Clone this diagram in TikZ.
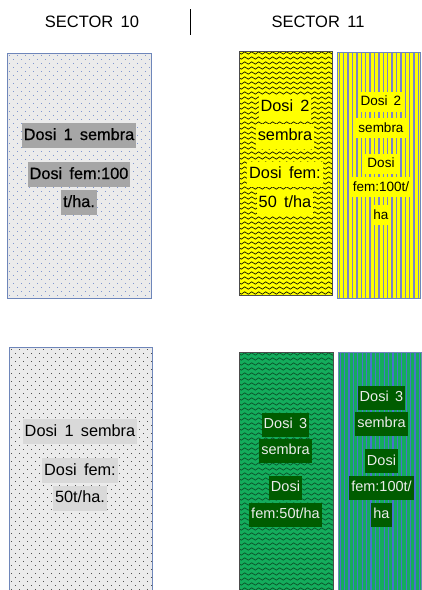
\documentclass[tikz,border=0pt]{standalone}
\usepackage{fontspec}
\setmainfont{Liberation Sans}[WordSpace=1.6]
\usetikzlibrary{decorations.pathmorphing}
\definecolor{bgL}{HTML}{EBEBEB}
\definecolor{dotblue}{HTML}{7F96CF}
\definecolor{dotdark}{HTML}{505050}
\definecolor{frameblue}{HTML}{6E86BA}
\definecolor{hldark}{HTML}{A6A6A6}
\definecolor{hllight}{HTML}{D9D9D9}
\definecolor{yel}{HTML}{FFFF00}
\definecolor{stripeY}{HTML}{7A84C8}
\definecolor{grn}{HTML}{14AC5C}
\definecolor{grnzz}{HTML}{0A4A24}
\definecolor{stripeG}{HTML}{4A72CC}
\definecolor{hlgreen}{HTML}{005C00}
\definecolor{txtlight}{HTML}{ECECEC}
\tikzset{
  frame/.style={draw=frameblue, line width=0.8pt},
  hl/.style={inner xsep=2pt, inner ysep=4.5pt, text height=12.5pt, text depth=3.5pt,
    font=\fontsize{16.3}{19}\selectfont},
  hlsmall/.style={inner xsep=2pt, inner ysep=3pt, text height=11pt, text depth=3pt,
    font=\fontsize{13.5}{16}\selectfont},
  hlgr/.style={inner xsep=2pt, inner ysep=4.5pt, text height=11.5pt, text depth=3.5pt,
    font=\fontsize{14.5}{17}\selectfont, text=txtlight, fill=hlgreen},
  head/.style={font=\fontsize{16.5}{20}\selectfont},
  zz/.style={decorate, decoration={zigzag, segment length=7pt, amplitude=1.2pt}, line width=0.6pt}
}
\begin{document}
\begin{tikzpicture}[x=1pt,y=-1pt]
\useasboundingbox (0,0) rectangle (422,590);
\fill[white] (0,0) rectangle (422,590);

% header
\node[head] (s10) at (92,22) {SECTOR 10};
\node[head] (s11) at (318,22) {SECTOR 11};
\coordinate (sepT) at (190,9);
\coordinate (sepB) at (190,35);
\draw[line width=0.9pt] (sepT) -- (sepB);

% ---------- top-left box
\fill[bgL] (7,53) rectangle (151,298);
\begin{scope}
\clip (7,53) rectangle (151,298);
\foreach \r in {0,...,61}{
  \pgfmathsetmacro\off{mod(\r,2)*4}
  \foreach \c in {0,...,18}{
    \fill[dotblue] ({9+\c*8+\off},{55+\r*4}) rectangle ++(1.3,1.3);
  }}
\end{scope}
\draw[frame] (7,53) rectangle (151,298);

% ---------- bottom-left box
\fill[bgL] (9,347) rectangle (152,595);
\begin{scope}
\clip (9,347) rectangle (152,595);
\foreach \r in {0,...,61}{
  \pgfmathsetmacro\off{mod(\r,2)*4}
  \foreach \c in {0,...,18}{
    \fill[dotdark] ({11+\c*8+\off},{349+\r*4}) rectangle ++(1.1,1.1);
  }}
\end{scope}
\draw[frame] (9,347) rectangle (152,595);

% ---------- yellow zigzag
\fill[yel] (239,51) rectangle (332,295);
\begin{scope}
\clip (239,51) rectangle (332,295);
\foreach \r in {0,...,49}{
  \draw[zz, black] (236,{53+\r*5}) -- (340,{53+\r*5});
}
\end{scope}
\draw[frame, draw=black!70] (239,51) rectangle (332,295);

% ---------- yellow stripes
\fill[yel] (337,52) rectangle (420,298);
\begin{scope}
\clip (337,52) rectangle (420,298);
\foreach \c in {0,...,19}{
  \fill[stripeY] ({338.5+\c*4.4},52) rectangle ++(1.4,246);
}
\end{scope}
\draw[frame] (337,52) rectangle (420,298);

% ---------- green zigzag
\fill[grn] (239,352) rectangle (333,595);
\begin{scope}
\clip (239,352) rectangle (333,595);
\foreach \r in {0,...,49}{
  \draw[zz, grnzz] (236,{354+\r*5}) -- (340,{354+\r*5});
}
\end{scope}
\draw[frame, draw=black!70] (239,352) rectangle (333,595);

% ---------- green stripes
\fill[grn] (338,352) rectangle (421,595);
\begin{scope}
\clip (338,352) rectangle (421,595);
\foreach \c in {0,...,19}{
  \fill[stripeG] ({339.5+\c*4.4},352) rectangle ++(1.2,243);
}
\end{scope}
\draw[frame] (338,352) rectangle (421,595);

% ---------- texts top-left
\node[hl, fill=hldark, font=\fontsize{16.3}{19}\selectfont\addfontfeature{FakeBold=0.6}] (tl1) at (79,135.5) {Dosi 1 sembra};
\node[hl, fill=hldark, font=\fontsize{16.3}{19}\selectfont\addfontfeature{FakeBold=0.6}] (tl2) at (79,174.5) {Dosi fem:100};
\node[hl, fill=hldark, font=\fontsize{16.3}{19}\selectfont\addfontfeature{FakeBold=0.6}] (tl3) at (79,202.5) {t/ha.};

% ---------- texts bottom-left
\node[hl, fill=hllight] (bl1) at (80,431.5) {Dosi 1 sembra};
\node[hl, fill=hllight] (bl2) at (80,470.5) {Dosi fem:};
\node[hl, fill=hllight] (bl3) at (80,498) {50t/ha.};

% ---------- texts yellow zigzag
\node[hl, fill=yel] (yz1) at (285,107) {Dosi 2};
\node[hl, fill=yel] (yz2) at (285,136) {sembra};
\node[hl, fill=yel] (yz3) at (285,174) {Dosi fem:};
\node[hl, fill=yel] (yz4) at (285,202.5) {50 t/ha};

% ---------- texts yellow stripes
\node[hlsmall, fill=yel] (ys1) at (381,101.5) {Dosi 2};
\node[hlsmall, fill=yel] (ys2) at (381,128) {sembra};
\node[hlsmall, fill=yel] (ys3) at (381,163.5) {Dosi};
\node[hlsmall, fill=yel] (ys4) at (381,187) {fem:100t/};
\node[hlsmall, fill=yel] (ys5) at (381,215) {ha};

% ---------- texts green zigzag
\node[hlgr] (gz1) at (285.5,424.5) {Dosi 3};
\node[hlgr] (gz2) at (285.5,450.5) {sembra};
\node[hlgr] (gz3) at (285.5,487.5) {Dosi};
\node[hlgr] (gz4) at (285.5,514.5) {fem:50t/ha};

% ---------- texts green stripes
\node[hlgr] (gs1) at (381.5,397.5) {Dosi 3};
\node[hlgr] (gs2) at (381.5,423.5) {sembra};
\node[hlgr] (gs3) at (381.5,461) {Dosi};
\node[hlgr] (gs4) at (381.5,487.5) {fem:100t/};
\node[hlgr] (gs5) at (381.5,514.5) {ha};
\end{tikzpicture}
\end{document}
